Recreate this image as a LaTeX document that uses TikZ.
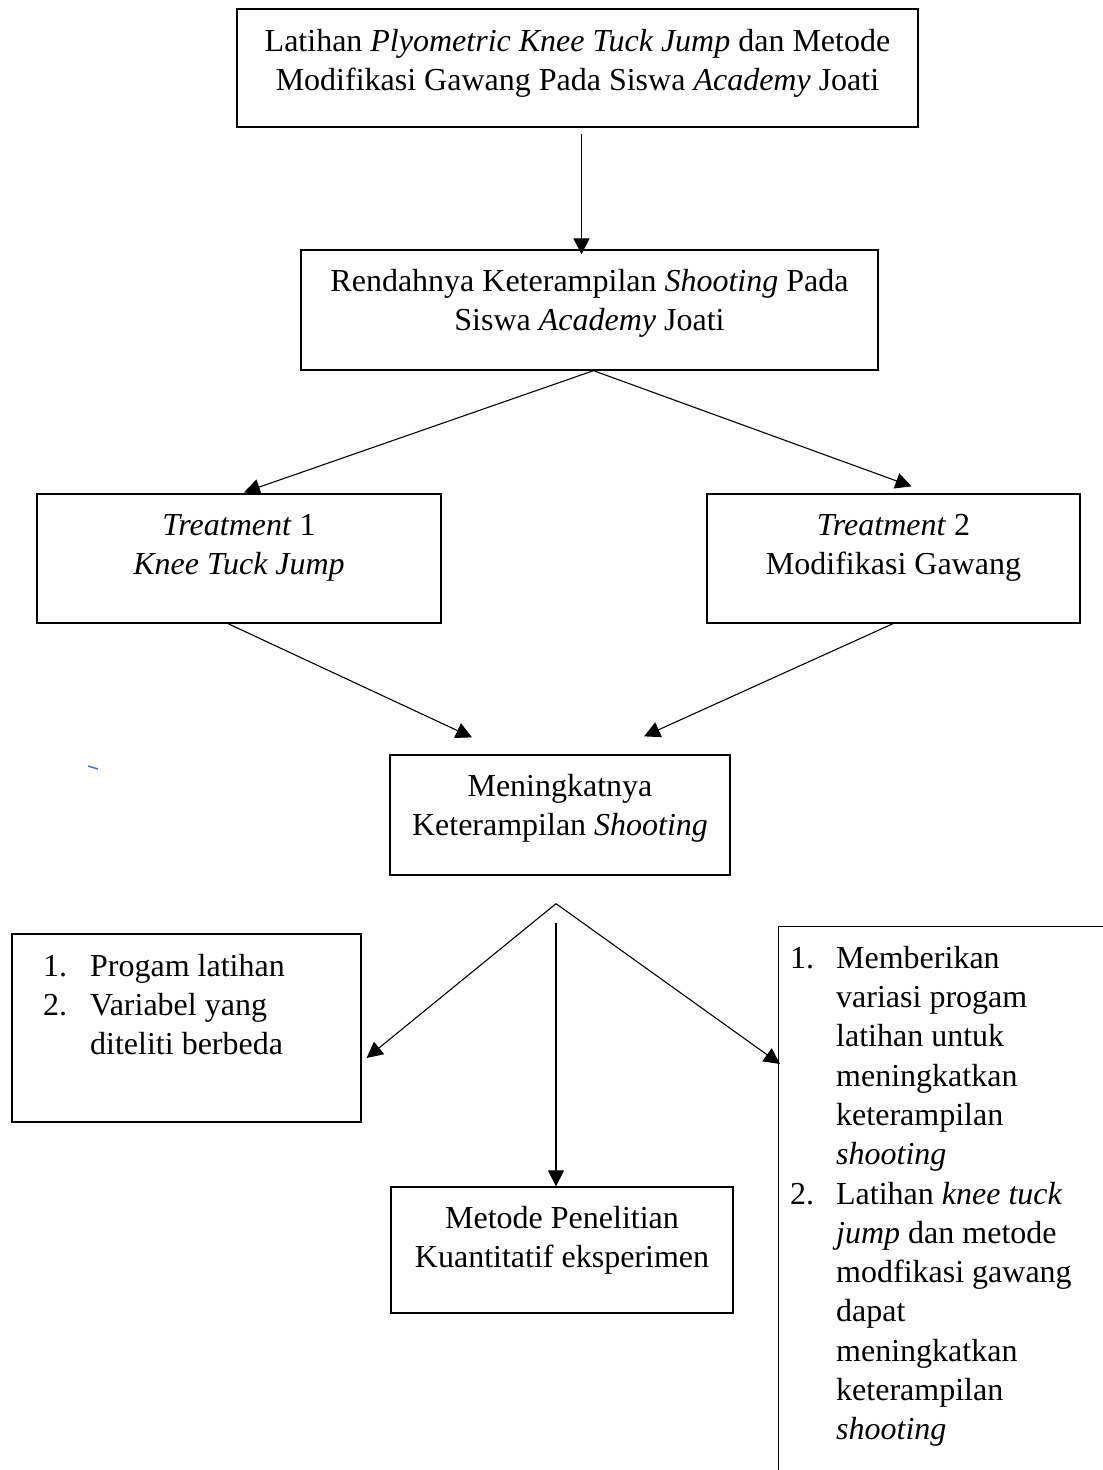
\documentclass[tikz,border=0pt]{standalone}
\usepackage{fontspec}
\setmainfont{Liberation Serif}
\usetikzlibrary{positioning, arrows.meta}
\definecolor{tickblue}{HTML}{4472C4}

\begin{document}
\begin{tikzpicture}[x=1pt, y=-1pt,
        box/.style={rectangle, draw, line width=1.3pt, inner sep=0pt},
        txt/.style={align=center, inner sep=0pt, font=\fontsize{32}{39.3}\selectfont},
        list/.style={align=left, inner sep=0pt, font=\fontsize{32}{39.3}\selectfont},
        arrow/.style={-{Triangle[length=16pt, width=16pt]}, line width=1.1pt}
    ]
    \useasboundingbox (0,0) rectangle (1103,1470);
    \clip (0,0) rectangle (1103,1470);

    % Judul dan masalah
    \node[box, minimum width=681pt, minimum height=118pt] (topik) at (577.5,68) {};
    \node[txt, below=15pt of topik.north] (ttopik) {\strut Latihan \textit{Plyometric Knee Tuck Jump} dan Metode\\Modifikasi Gawang Pada Siswa \textit{Academy} Joati};
    \node[box, minimum width=577pt, minimum height=120pt] (masalah) at (589.5,310) {};
    \node[txt, below=14.5pt of masalah.north] (tmasalah) {\strut Rendahnya Keterampilan \textit{Shooting} Pada\\Siswa \textit{Academy} Joati};
    \draw[arrow] ([xshift=4pt,yshift=-6pt]topik.south) -- ([xshift=-8pt,yshift=-5pt]masalah.north);

    % Treatment
    \node[box, minimum width=404pt, minimum height=129pt] (tr1) at (239,558.5) {};
    \node[txt, below=14.5pt of tr1.north] (ttr1) {\strut\textit{Treatment} 1\\\textit{Knee Tuck Jump}};
    \node[box, minimum width=373pt, minimum height=129pt] (tr2) at (893.5,558.5) {};
    \node[txt, below=14.5pt of tr2.north] (ttr2) {\strut\textit{Treatment} 2\\Modifikasi Gawang};
    \draw[arrow] ([xshift=4pt]masalah.south) -- ([xshift=5pt,yshift=1pt]tr1.north);
    \draw[arrow] ([xshift=4pt]masalah.south) -- ([xshift=18pt,yshift=7pt]tr2.north);

    % Hasil
    \node[box, minimum width=340pt, minimum height=120pt] (hasil) at (560,815) {};
    \node[txt, below=14.5pt of hasil.north] (thasil) {\strut Meningkatnya\\Keterampilan \textit{Shooting}};
    \draw[arrow] ([xshift=-11pt]tr1.south) -- ([xshift=-88pt,yshift=17pt]hasil.north);
    \draw[arrow] ([xshift=-0.5pt]tr2.south) -- ([xshift=84pt,yshift=18pt]hasil.north);
    \draw[tickblue, line width=1.5pt] (88,766) -- (98,769);

    % Percabangan
    \coordinate (cabang) at ([xshift=-4pt,yshift=-28pt]hasil.south);
    \node[box, minimum width=349pt, minimum height=188pt] (kiri) at (186.5,1028) {};
    \node[list, anchor=north west] (tkiri) at (43,948.5) {\strut\makebox[47pt][l]{1.}Progam latihan\\\makebox[47pt][l]{2.}Variabel yang\\\hspace*{47pt}diteliti berbeda};
    \node[box, minimum width=342pt, minimum height=126pt] (metode) at (562,1250) {};
    \node[txt, below=14.5pt of metode.north] (tmetode) {\strut Metode Penelitian\\Kuantitatif eksperimen};
    \node[box, anchor=north west, minimum width=400pt, minimum height=600pt] (kanan) at (778,926) {};
    \node[list, anchor=north west] (tkanan) at (790,940.5) {\strut\makebox[46pt][l]{1.}Memberikan\\\hspace*{46pt}variasi progam\\\hspace*{46pt}latihan untuk\\\hspace*{46pt}meningkatkan\\\hspace*{46pt}keterampilan\\\hspace*{46pt}\textit{shooting}\\\makebox[46pt][l]{2.}Latihan \textit{knee tuck}\\\hspace*{46pt}\textit{jump} dan metode\\\hspace*{46pt}modfikasi gawang\\\hspace*{46pt}dapat\\\hspace*{46pt}meningkatkan\\\hspace*{46pt}keterampilan\\\hspace*{46pt}\textit{shooting}};
    \draw[arrow] (cabang) -- ([xshift=5pt,yshift=-30pt]kiri.east);
    \draw[arrow] (cabang) -- ([xshift=2pt,yshift=-138pt]kanan.north west);
    \draw[arrow] ([yshift=-19pt]cabang) -- ([xshift=-6pt]metode.north);
\end{tikzpicture}
\end{document}
